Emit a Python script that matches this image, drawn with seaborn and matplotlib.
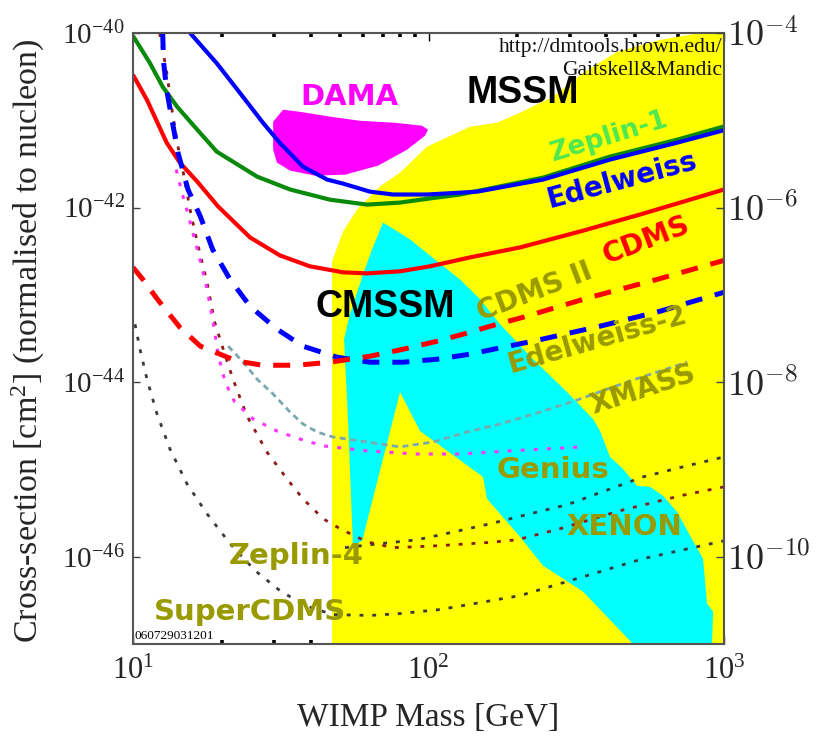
import matplotlib
matplotlib.use("Agg")
import matplotlib.pyplot as plt
import numpy as np
import pandas as pd
import seaborn as sns
from matplotlib.ticker import FixedLocator, FixedFormatter, LogLocator, NullFormatter, NullLocator

# ---------------------------------------------------------------------------
# WIMP-nucleon cross-section limits and projections (mass in GeV, sigma in cm^2)
# ---------------------------------------------------------------------------
edelweiss_mass = [15.6, 19.2, 23.0, 27.5, 31.4, 37.6, 45.4, 51.4, 63.4, 75.8, 98.8, 128, 146, 244, 411, 693, 1000]
edelweiss_sigma = [1.0e-40, 4.5e-41, 2.06e-41, 9.4e-42, 5.5e-42, 2.94e-42, 2.09e-42, 1.88e-42, 1.52e-42,
                   1.41e-42, 1.41e-42, 1.48e-42, 1.52e-42, 2.09e-42, 3.54e-42, 5.53e-42, 7.7e-42]

zeplin1_mass = [10.0, 11.4, 12.6, 14.1, 16.5, 19.2, 26.3, 34.0, 46.4, 61.9, 80.1, 101, 128, 244, 411, 693, 1000]
zeplin1_sigma = [9.25e-41, 4.54e-41, 2.42e-41, 1.43e-41, 7.79e-42, 4.37e-42, 2.26e-42, 1.61e-42, 1.23e-42,
                 1.08e-42, 1.14e-42, 1.27e-42, 1.41e-42, 2.2e-42, 3.83e-42, 5.98e-42, 8.5e-42]

cdms_mass = [10.0, 11.15, 12.1, 13.0, 14.4, 16.5, 19.4, 24.9, 31.4, 39.7, 51.4, 61.9, 80.1, 101, 138, 204,
             326, 520, 767, 1000]
cdms_sigma = [3.31e-41, 1.71e-41, 9.36e-42, 5.53e-42, 3.27e-42, 1.98e-42, 1.03e-42, 4.54e-43, 2.83e-43,
              2.12e-43, 1.81e-43, 1.76e-43, 1.86e-43, 2.12e-43, 2.68e-43, 3.49e-43, 5.32e-43, 8.32e-43,
              1.23e-42, 1.61e-42]

cdms2_mass = [10.0, 10.8, 12.1, 14.4, 16.9, 18.6, 22.5, 27.5, 35.9, 46.4, 63.4, 82.0, 106.9, 130.9, 170.5,
              208.8, 352, 593, 1000]
cdms2_sigma = [2.06e-43, 1.5e-43, 8.89e-44, 4.25e-44, 2.58e-44, 2.26e-44, 1.74e-44, 1.56e-44, 1.56e-44,
               1.69e-44, 1.98e-44, 2.38e-44, 2.94e-44, 3.54e-44, 4.6e-44, 5.53e-44, 9.36e-44, 1.5e-43, 2.48e-43]

edelweiss2_mass = [12.6, 12.7, 13.0, 13.55, 14.2, 15.35, 16.9, 18.6, 21.3, 24.9, 30.7, 37.6, 49.0, 63.4,
                   82.0, 106.9, 138.2, 178.7, 225.8, 380.6, 607, 1000]
edelweiss2_sigma = [1e-40, 4.54e-41, 2.23e-41, 1.01e-41, 4.25e-42, 1.61e-42, 7.89e-43, 3.31e-43, 1.5e-43,
                    7.39e-44, 4.04e-44, 2.58e-44, 1.93e-44, 1.69e-44, 1.69e-44, 1.83e-44, 2.09e-44, 2.51e-44,
                    2.94e-44, 4.37e-44, 6.48e-44, 1.07e-43]

xenon_mass = [12.3, 12.6, 13.0, 13.55, 14.2, 14.8, 15.6, 16.5, 17.8, 18.9, 20.2, 21.8, 24.3, 28.4, 33.2,
              37.6, 44.0, 50.2, 61.9, 75.8, 91.4, 109.4, 157.8, 199.3, 278.6, 444.8, 710, 1000]
xenon_sigma = [1e-40, 6.4e-41, 3.58e-41, 1.32e-41, 4.98e-42, 2.51e-42, 9.48e-43, 3.98e-43, 1.39e-43, 4.85e-44,
               2.38e-44, 1.08e-44, 4.09e-45, 1.58e-45, 7.79e-46, 4.6e-46, 2.72e-46, 2.09e-46, 1.48e-46,
               1.27e-46, 1.3e-46, 1.34e-46, 1.45e-46, 1.56e-46, 2.09e-46, 3.36e-46, 4.98e-46, 6.31e-46]

genius_mass = [14.0, 14.65, 15.2, 16.0, 16.9, 17.8, 18.65, 19.4, 20.5, 22.1, 25.5, 30.7, 36.7, 44.0, 61.9,
               91.4, 127.8, 188.7, 333]
genius_sigma = [2.72e-42, 1.48e-42, 9.48e-43, 4.91e-43, 2.42e-43, 1.16e-43, 4.98e-44, 2.09e-44, 1.0e-44,
                5.9e-45, 3.78e-45, 2.75e-45, 2.23e-45, 1.86e-45, 1.63e-45, 1.5e-45, 1.5e-45, 1.63e-45, 1.81e-45]

xmass_mass = [21.0, 23.6, 26.3, 29.8, 34.0, 37.6, 42.0, 47.5, 61.9, 80.1, 103.6, 135, 174.6, 238.4, 318,
              480.8, 749.8]
xmass_sigma = [2.58e-44, 1.69e-44, 1.08e-44, 7.3e-45, 4.54e-45, 3.31e-45, 2.68e-45, 2.35e-45, 2.06e-45,
               1.81e-45, 2.06e-45, 2.68e-45, 3.31e-45, 4.54e-45, 6.23e-45, 1.03e-44, 1.69e-44]

zeplin4_mass = [52.2, 63.4, 91.4, 118.2, 161.5, 220.6, 294.2, 395.7, 532, 726.8, 1000]
zeplin4_sigma = [1.27e-46, 1.37e-46, 1.56e-46, 1.88e-46, 2.38e-46, 3.1e-46, 3.93e-46, 5.68e-46, 8.2e-46,
                 1.07e-45, 1.39e-45]

supercdms_mass = [10.16, 10.56, 11.15, 12.06, 13.34, 15.23, 17.8, 21.3, 25.9, 31.4, 38.2, 47.5, 63.4, 80.1,
                  109.4, 149.4, 204, 294, 532, 1000]
supercdms_sigma = [4.6e-44, 2.38e-44, 1.08e-44, 4.31e-45, 1.71e-45, 6.83e-46, 3.1e-46, 1.41e-46, 6.92e-47,
                   4.09e-47, 2.75e-47, 2.17e-47, 2.12e-47, 2.23e-47, 2.48e-47, 2.98e-47, 3.58e-47, 5.18e-47,
                   9.48e-47, 1.52e-46]

# Allowed / favoured regions (closed outlines)
dama_mass = [32.2, 36.7, 46.4, 58.6, 77.0, 95.1, 99.6, 97.3, 84.6, 67.5, 52.2, 41.3, 34.0, 30.7, 29.8, 29.8]
dama_sigma = [1.32e-41, 1.25e-41, 1.10e-41, 9.86e-42, 9.36e-42, 8.65e-42, 7.79e-42, 6.65e-42, 4.6e-42,
              3.02e-42, 2.38e-42, 2.32e-42, 2.65e-42, 3.27e-42, 4.6e-42, 9.62e-42]

mssm_mass = [47.15, 47.15, 51.4, 57.3, 68.5, 80.1, 98.8, 138.2, 170.5, 204, 263.8, 333.3, 434.5, 607, 829.7,
             1000, 1000]
mssm_sigma = [1e-47, 2.42e-43, 5.32e-43, 9.48e-43, 1.74e-42, 2.51e-42, 4.98e-42, 8.43e-42, 9.36e-42,
              1.22e-41, 1.86e-41, 3.49e-41, 6.07e-41, 8.32e-41, 1e-40, 1e-40, 1e-47]

cmssm_mass = [70.15, 86.6, 106.9, 127.8, 149.4, 174.6, 225.8, 294.2, 360.4, 380.6, 411.4, 455.3, 507.7,
              561.8, 621.7, 693.4, 767.4, 849.3, 876.1, 918, 910.9, 492.1, 333.3, 244.1, 204, 157.8, 152.9,
              93.6, 80.1, 59.6, 55.5, 53.4, 51.8, 54.2, 60.0, 64.4]
cmssm_sigma = [6.74e-43, 4.31e-43, 2.42e-43, 1.5e-43, 8.89e-44, 4.6e-44, 1.83e-44, 7.69e-45, 3.78e-45,
               2.75e-45, 1.39e-45, 1.01e-45, 6.48e-46, 6.31e-46, 4.98e-46, 3.27e-46, 1.74e-46, 9.48e-47,
               2.9e-47, 2.35e-47, 1e-47, 1e-47, 3.98e-47, 7.89e-47, 1.69e-46, 4.6e-46, 8.2e-46, 2.75e-45,
               7.69e-45, 1.52e-46, 1.34e-46, 3.78e-45, 3.1e-44, 5.98e-44, 1.71e-43, 3.31e-43]

x_ticks = [10, 100, 1000]
x_tick_labels = [r"$\mathregular{10^{1}}$", r"$\mathregular{10^{2}}$", r"$\mathregular{10^{3}}$"]
y_ticks = [1e-46, 1e-44, 1e-42, 1e-40]
y_tick_labels = [r"$\mathregular{10^{-46}}$", r"$\mathregular{10^{-44}}$",
                 r"$\mathregular{10^{-42}}$", r"$\mathregular{10^{-40}}$"]
y2_ticks = [1e-10, 1e-8, 1e-6, 1e-4]
y2_tick_labels = [r"$10^{-10}$", r"$10^{-8}$", r"$10^{-6}$", r"$10^{-4}$"]

# ---------------------------------------------------------------------------
sns.set_theme(style="white")
plt.rcParams["font.family"] = ["Liberation Serif", "DejaVu Serif"]
plt.rcParams["mathtext.fontset"] = "cm"

fig = plt.figure(figsize=(8.22, 7.39), dpi=100)
ax = fig.add_axes([0.1618, 0.1286, 0.7190, 0.8268])
ax.set_xscale("log")
ax.set_yscale("log")
ax.set_xlim(10, 1000)
ax.set_ylim(1e-47, 1e-40)
ax.set_facecolor("white")

# filled regions
ax.fill(mssm_mass, mssm_sigma, color="#ffff00", lw=0, zorder=1)
ax.fill(cmssm_mass, cmssm_sigma, color="#00ffff", lw=0, zorder=2)
ax.fill(dama_mass, dama_sigma, color="#ff00ff", lw=0, zorder=3)

dots = (0, (1.4, 3.2))
curves = [
    (supercdms_mass, supercdms_sigma, dict(color="#3a3a3a", lw=2.0, linestyle=dots)),
    (zeplin4_mass, zeplin4_sigma, dict(color="#3a3a3a", lw=2.0, linestyle=dots)),
    (xenon_mass, xenon_sigma, dict(color="#8b1a1a", lw=2.0, linestyle=dots)),
    (genius_mass, genius_sigma, dict(color="#ff33ff", lw=2.2, linestyle=(0, (1.3, 3.0)))),
    (xmass_mass, xmass_sigma, dict(color="#79a9ae", lw=2.0, linestyle=(0, (2.2, 1.6)))),
    (zeplin1_mass, zeplin1_sigma, dict(color="#0a8a0a", lw=3.0, linestyle="-")),
    (edelweiss_mass, edelweiss_sigma, dict(color="#0000ff", lw=3.0, linestyle="-")),
    (cdms_mass, cdms_sigma, dict(color="#ff0000", lw=3.0, linestyle="-")),
    (edelweiss2_mass, edelweiss2_sigma, dict(color="#0000ff", lw=3.6, linestyle=(0, (3.4, 2.6)))),
    (cdms2_mass, cdms2_sigma, dict(color="#ff0000", lw=3.6, linestyle=(0, (3.4, 2.6)))),
]
for i, (m, s, style) in enumerate(curves):
    df = pd.DataFrame({"mass": m, "sigma": s})
    sns.lineplot(data=df, x="mass", y="sigma", sort=False, estimator=None, legend=False,
                 ax=ax, zorder=4 + i * 0.1, solid_capstyle="butt", dash_capstyle="butt", **style)

ax.set_xlabel("")
ax.set_ylabel("")

# ticks
ax.xaxis.set_major_locator(FixedLocator(x_ticks))
ax.xaxis.set_major_formatter(FixedFormatter(x_tick_labels))
ax.xaxis.set_minor_locator(LogLocator(base=10, subs=np.arange(2, 10)))
ax.xaxis.set_minor_formatter(NullFormatter())
ax.yaxis.set_major_locator(FixedLocator(y_ticks))
ax.yaxis.set_major_formatter(FixedFormatter(y_tick_labels))
ax.yaxis.set_minor_locator(NullLocator())
ax.tick_params(axis="x", which="major", direction="in", top=True, bottom=True, length=6, width=1,
               color="black", labelsize=22, pad=9)
ax.tick_params(axis="x", which="minor", direction="in", top=True, bottom=True, length=3, width=2.6,
               color="black")
ax.tick_params(axis="y", which="major", direction="in", left=True, right=False, length=5, width=1,
               color="#444444", labelsize=21, pad=6)

for sp in ax.spines.values():
    sp.set_color("#555555")
    sp.set_linewidth(1.5)
    sp.set_zorder(10)

ax2 = ax.twinx()
ax2.set_yscale("log")
ax2.set_ylim(1e-11, 1e-4)
ax2.yaxis.set_major_locator(FixedLocator(y2_ticks))
ax2.yaxis.set_major_formatter(FixedFormatter(y2_tick_labels))
ax2.yaxis.set_minor_locator(NullLocator())
ax2.tick_params(axis="y", which="major", direction="in", right=True, length=6, width=1,
                color="#444444", labelsize=26, pad=2)
for sp in ax2.spines.values():
    sp.set_visible(False)
ax2.grid(False)
ax.grid(False)

# axis titles
ax.set_xlabel("WIMP Mass [GeV]", fontsize=24)
ax.xaxis.set_label_coords(0.5, -0.096)
ax.set_ylabel(r"Cross-section [cm$\mathregular{^2}$] (normalised to nucleon)", fontsize=24.5)
ax.yaxis.set_label_coords(-0.146, 0.497)

# region and experiment labels
olive = "#999900"
labels = [
    ("DAMA", 0.367, 0.895, "#ff00ff", 0, 21),
    ("Zeplin-1", 0.807, 0.830, "#50e850", 17, 19),
    ("Edelweiss", 0.827, 0.759, "#0000ff", 15, 20),
    ("CDMS", 0.868, 0.661, "#ff0000", 21, 20),
    ("CDMS II", 0.680, 0.576, olive, 21, 20),
    ("Edelweiss-2", 0.785, 0.498, olive, 16, 20),
    ("XMASS", 0.863, 0.416, olive, 18, 20),
    ("Genius", 0.711, 0.285, olive, 0, 21),
    ("XENON", 0.831, 0.191, olive, 0, 21),
    ("Zeplin-4", 0.277, 0.144, olive, 0, 21),
    ("SuperCDMS", 0.198, 0.052, olive, 0, 21),
]
for text, fx, fy, col, rot, fs in labels:
    ax.text(fx, fy, text, transform=ax.transAxes, ha="center", va="center", rotation=rot,
            rotation_mode="anchor", color=col, fontsize=fs, fontweight="bold",
            family=["DejaVu Sans"], zorder=20)

ax.text(0.660, 0.902, "MSSM", transform=ax.transAxes, ha="center", va="center", fontsize=27,
        fontweight="bold", family=["Liberation Sans"], color="black", zorder=20)
ax.text(0.426, 0.552, "CMSSM", transform=ax.transAxes, ha="center", va="center", fontsize=27,
        fontweight="bold", family=["Liberation Sans"], color="black", zorder=20)

ax.text(0.997, 0.977, "http://dmtools.brown.edu/", transform=ax.transAxes, ha="right", va="center",
        fontsize=15.5, color="#111111", zorder=20)
ax.text(0.997, 0.939, "Gaitskell&Mandic", transform=ax.transAxes, ha="right", va="center",
        fontsize=15.5, color="#111111", zorder=20)
ax.text(0.003, 0.013, "060729031201", transform=ax.transAxes, ha="left", va="center",
        fontsize=9.5, color="black", zorder=20)

fig.savefig("out.png", dpi=100, facecolor="white")
